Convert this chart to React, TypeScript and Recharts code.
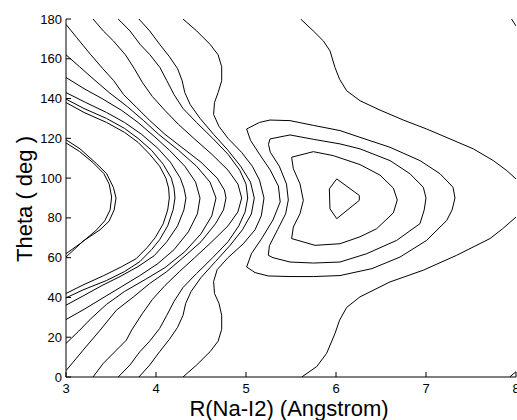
import { LineChart, Line, XAxis, YAxis, Label } from 'recharts'

const xTicks = [3, 4, 5, 6, 7, 8]
const yTicks = [0, 20, 40, 60, 80, 100, 120, 140, 160, 180]

// contour paths as [R, theta] pairs
const loopInner = [[3, 117.7], [3.15, 113.4], [3.3, 107.8], [3.42, 102.3], [3.48, 97], [3.507, 90.5], [3.49, 84], [3.43, 78.5], [3.33, 73.5], [3.17, 67.5], [3, 62]]
const loopOuter = [[3, 119.3], [3.156, 114.7], [3.341, 107.2], [3.452, 102.2], [3.526, 95.4], [3.556, 90], [3.535, 84], [3.478, 78.3], [3.378, 74], [3.19, 68.3], [3, 60.3]]

const left138 = [[3, 138], [3.2, 133], [3.45, 128], [3.65, 123], [3.8, 118], [3.93, 112], [4.04, 106], [4.11, 100], [4.14, 95], [4.148, 90], [4.13, 84], [4.08, 77], [3.99, 70], [3.9, 65], [3.78, 59.5], [3.62, 55.5], [3.42, 51], [3.2, 46.5], [3, 42]]
const left140 = [[3, 139.7], [3.2, 135], [3.45, 130], [3.65, 125], [3.8, 120], [3.95, 114], [4.08, 107], [4.17, 100], [4.2, 95], [4.211, 90], [4.19, 84], [4.13, 76], [4.04, 69], [3.95, 64], [3.82, 58], [3.65, 53], [3.45, 48.5], [3.2, 44], [3, 39.8]]
const left143 = [[3, 143], [3.22, 138], [3.45, 133], [3.65, 128], [3.84, 122], [4.02, 115], [4.16, 108], [4.27, 100], [4.31, 95], [4.333, 90], [4.31, 84], [4.24, 76], [4.12, 68], [3.98, 61], [3.8, 55.5], [3.6, 50.5], [3.4, 46], [3.2, 41], [3, 36.1]]
const left151 = [[3, 150.6], [3.2, 145], [3.4, 140], [3.62, 134], [3.8, 128], [3.98, 121], [4.15, 114], [4.32, 106], [4.44, 98], [4.489, 90], [4.46, 82], [4.36, 73], [4.2, 64], [4.02, 57], [3.82, 51], [3.62, 45.5], [3.4, 39.5], [3.2, 34], [3, 28.9]]
const left162 = [[3, 162], [3.15, 156], [3.3, 150], [3.48, 143], [3.68, 136], [3.86, 129], [4.03, 122], [4.25, 114], [4.45, 106], [4.6, 98], [4.667, 90], [4.62, 81], [4.5, 72], [4.32, 63], [4.1, 55], [3.88, 49], [3.65, 43], [3.45, 36.5], [3.28, 29.5], [3.14, 23], [3, 16.9]]
const left177 = [[3, 177.3], [3.12, 170.6], [3.27, 162.3], [3.41, 155], [3.53, 149], [3.64, 142], [3.785, 135.5], [3.93, 129], [4.1, 122], [4.3, 115], [4.5, 108], [4.68, 100], [4.76, 94], [4.778, 90], [4.75, 84], [4.66, 77], [4.5, 68], [4.3, 60], [4.12, 53], [3.93, 47], [3.75, 40.3], [3.56, 33.6], [3.38, 23.6], [3.19, 13.5], [3.08, 7.5], [3, 3.2]]

const top330 = [[3.3, 180], [3.415, 174], [3.526, 169], [3.66, 162], [3.76, 155], [3.85, 148], [3.96, 141], [4.1, 134], [4.25, 127], [4.42, 120], [4.62, 112], [4.8, 104], [4.91, 97], [4.952, 90], [4.91, 83], [4.8, 76], [4.62, 68], [4.43, 60], [4.26, 53], [4.1, 46], [3.96, 39], [3.85, 32], [3.73, 23.6], [3.67, 18.5], [3.56, 13.5], [3.415, 6.9], [3.3, 0]]
const top358 = [[3.58, 180], [3.711, 174], [3.822, 167.3], [3.933, 162], [4.044, 155.6], [4.12, 149], [4.2, 142], [4.3, 135], [4.45, 128], [4.63, 120], [4.8, 112], [4.93, 104], [5.0, 97], [5.019, 90], [4.99, 83], [4.92, 76], [4.8, 68], [4.63, 60], [4.45, 52], [4.3, 45], [4.2, 38], [4.12, 31], [4.04, 24.4], [3.93, 18], [3.82, 12.7], [3.71, 6], [3.58, 0]]
const top381 = [[3.81, 180], [3.93, 174], [4.04, 167.3], [4.15, 161], [4.24, 155], [4.29, 149], [4.32, 143], [4.38, 137], [4.49, 130], [4.64, 122], [4.8, 114], [4.94, 106], [5.05, 98], [5.092, 90], [5.06, 82], [4.96, 74], [4.82, 66], [4.66, 58], [4.5, 50], [4.39, 43], [4.33, 37], [4.3, 31], [4.24, 25], [4.15, 19], [4.04, 12.7], [3.93, 6], [3.81, 0]]
const top430 = [[4.3, 180], [4.452, 174], [4.6, 167.3], [4.69, 162], [4.73, 156], [4.73, 149], [4.69, 143], [4.65, 138], [4.64, 132], [4.7, 126], [4.8, 120], [4.95, 113], [5.07, 106], [5.15, 99], [5.2, 90], [5.17, 81], [5.1, 74], [4.97, 67], [4.8, 60], [4.68, 54], [4.64, 48], [4.65, 42], [4.7, 37], [4.73, 31], [4.73, 24], [4.69, 18], [4.6, 12.7], [4.45, 6], [4.3, 0]]

const ring4 = [[5.007, 124.7], [5.15, 128], [5.267, 129.2], [5.489, 128.9], [5.75, 126.5], [6.044, 123.9], [6.267, 120.5], [6.6, 115.5], [6.933, 108.8], [7.156, 102.2], [7.3, 95.4], [7.322, 90], [7.29, 84], [7.23, 78.7], [7.007, 68.7], [6.711, 60.3], [6.4, 54.5], [6.044, 51], [5.75, 50.5], [5.489, 50.5], [5.248, 50.8], [5.1, 52.5], [5.007, 55.3], [5.06, 62], [5.18, 70], [5.3, 79], [5.38, 88], [5.36, 96], [5.27, 104], [5.15, 112], [5.05, 119], [5.007, 124.7]]
const ring3 = [[5.267, 119.7], [5.489, 121.7], [5.75, 119.5], [6.044, 117.2], [6.267, 114.7], [6.6, 108.8], [6.822, 102.2], [6.97, 95.4], [7.0, 90], [6.98, 84], [6.933, 77.1], [6.674, 68.7], [6.341, 62], [6.044, 57.8], [5.75, 57.3], [5.489, 57.8], [5.3, 60], [5.248, 61.2], [5.26, 66], [5.35, 74], [5.44, 82], [5.47, 89], [5.45, 97], [5.37, 106], [5.27, 113], [5.25, 117], [5.267, 119.7]]
const ring2 = [[5.507, 110.5], [5.748, 113.3], [5.97, 111.3], [6.267, 106.8], [6.489, 101.5], [6.637, 95], [6.681, 89], [6.637, 82.5], [6.45, 74.5], [6.267, 70.5], [6.044, 67], [5.767, 66.2], [5.507, 69.6], [5.526, 75.4], [5.6, 82.1], [5.637, 88.8], [5.6, 97.1], [5.526, 104.7], [5.507, 110.5]]
const ring1 = [[6.008, 99.6], [5.926, 94.6], [5.933, 84.6], [6.008, 79.6], [6.259, 88.8], [6.259, 91.3], [6.008, 99.6]]

const rightTop = [[5.607, 180], [5.748, 174], [5.859, 169], [5.933, 164], [5.989, 155.6], [6.04, 149.7], [6.119, 143.9], [6.267, 138.9], [6.489, 134.2], [6.748, 129.2], [7.007, 124.7], [7.267, 119.7], [7.526, 114.7], [7.748, 108.8], [7.897, 103.8], [8, 99.6]]
const rightBottom = [[8, 80.4], [7.85, 74.5], [7.711, 69.6], [7.341, 61.2], [6.97, 53.7], [6.6, 47.8], [6.267, 40.3], [6.119, 35], [6.04, 28.6], [5.989, 21.9], [5.896, 11.9], [5.785, 5.2], [5.619, 0]]
const cornerTop = [[7.95, 180], [8, 176.5]]
const cornerBottom = [[7.93, 0], [8, 2.7]]

const contours = [
  loopInner, loopOuter, left138, left140, left143, left151, left162, left177,
  top330, top358, top381, top430, ring4, ring3, ring2, ring1,
  rightTop, rightBottom, cornerTop, cornerBottom,
]
const series = contours.map((c) => c.map(([x, y]) => ({ x, y })))

const font = 'Liberation Sans, Arial, sans-serif'

function BottomTick({ x, y, payload }: any) {
  return (
    <g>
      <line x1={x} x2={x} y1={y} y2={y - 5} stroke="#000" />
      <text x={x} y={y + 16} textAnchor="middle" fontSize={13} fontFamily={font} fill="#000">{payload.value}</text>
    </g>
  )
}

function LeftTick({ x, y, payload }: any) {
  return (
    <g>
      <line x1={x} x2={x + 5} y1={y} y2={y} stroke="#000" />
      <text x={x - 4} y={y + 4.5} textAnchor="end" fontSize={13} fontFamily={font} fill="#000">{payload.value}</text>
    </g>
  )
}

function TopTick({ x, y }: any) {
  return <line x1={x} x2={x} y1={y} y2={y + 5} stroke="#000" />
}

function RightTick({ x, y }: any) {
  return <line x1={x} x2={x - 5} y1={y} y2={y} stroke="#000" />
}

export default function App() {
  return (
    <div style={{ position: 'absolute', left: 0, top: 0, background: '#fff' }}>
      <LineChart width={517} height={420} margin={{ top: 19, right: 1, bottom: 0, left: 0 }}>
        <XAxis
          xAxisId="b"
          type="number"
          dataKey="x"
          domain={[3, 8]}
          ticks={xTicks}
          interval={0}
          height={43}
          tickSize={0}
          tickMargin={0}
          tick={<BottomTick />}
          axisLine={{ stroke: '#000' }}
          allowDataOverflow
        >
          <Label
            content={() => (
              <text x={289} y={416} textAnchor="middle" fontSize={22} fontFamily={font} fill="#000">
                R(Na-I2) (Angstrom)
              </text>
            )}
          />
        </XAxis>
        <XAxis
          xAxisId="t"
          orientation="top"
          type="number"
          domain={[3, 8]}
          ticks={xTicks}
          interval={0}
          height={0}
          tickSize={0}
          tickMargin={0}
          tick={<TopTick />}
          axisLine={{ stroke: '#000' }}
          allowDataOverflow
        />
        <YAxis
          yAxisId="l"
          type="number"
          dataKey="y"
          domain={[0, 180]}
          ticks={yTicks}
          interval={0}
          width={66}
          tickSize={0}
          tickMargin={0}
          tick={<LeftTick />}
          axisLine={{ stroke: '#000' }}
          allowDataOverflow
        >
          <Label
            content={() => (
              <text
                x={31.5}
                y={199}
                textAnchor="middle"
                fontSize={22}
                fontFamily={font}
                fill="#000"
                transform="rotate(-90, 31.5, 199)"
              >
                Theta ( deg )
              </text>
            )}
          />
        </YAxis>
        <YAxis
          yAxisId="r"
          orientation="right"
          type="number"
          domain={[0, 180]}
          ticks={yTicks}
          interval={0}
          width={0}
          tickSize={0}
          tickMargin={0}
          tick={<RightTick />}
          axisLine={{ stroke: '#000' }}
          allowDataOverflow
        />
        {series.map((d, i) => (
          <Line
            key={i}
            xAxisId="b"
            yAxisId="l"
            data={d}
            dataKey="y"
            type="linear"
            stroke="#000"
            strokeWidth={1}
            dot={false}
            activeDot={false}
            isAnimationActive={false}
          />
        ))}
      </LineChart>
    </div>
  )
}
